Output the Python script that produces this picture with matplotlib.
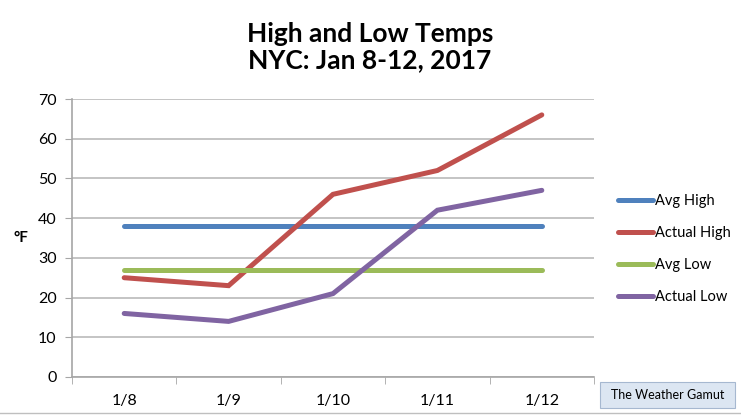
import matplotlib
matplotlib.use("Agg")
import matplotlib.pyplot as plt
from matplotlib.patches import Rectangle

plt.rcParams['font.family'] = ['Lato', 'DejaVu Sans']

days = ["1/8", "1/9", "1/10", "1/11", "1/12"]
avg_high = [38, 38, 38, 38, 38]
actual_high = [25, 23, 46, 52, 66]
avg_low = [27, 27, 27, 27, 27]
actual_low = [16, 14, 21, 42, 47]

series = [
    ("Avg High", avg_high, "#4f81bd"),
    ("Actual High", actual_high, "#c0504d"),
    ("Avg Low", avg_low, "#9bbb59"),
    ("Actual Low", actual_low, "#8064a2"),
]

fig = plt.figure(figsize=(7.41, 4.15), dpi=100)
ax = fig.add_axes([72 / 741, 1 - 377 / 415, 522 / 741, 278 / 415])

x = list(range(len(days)))
for name, vals, col in series:
    ax.plot(x, vals, color=col, lw=3.6, label=name, solid_capstyle='round',
            solid_joinstyle='miter')

ax.set_xlim(-0.5, len(days) - 0.5)
ax.set_ylim(0, 70)
ax.set_yticks(range(0, 71, 10))
ax.set_xticks(x)
ax.set_xticklabels(days)
ax.set_xticks([i - 0.5 for i in range(len(days) + 1)], minor=True)
ax.tick_params(axis='x', which='major', length=0, pad=12, labelsize=11.5)
ax.tick_params(axis='x', which='minor', length=5, color='#a6a6a6', direction='out')
ax.tick_params(axis='y', length=5, color='#a6a6a6', labelsize=11.5, pad=6)
ax.grid(axis='y', color='#bfbfbf', lw=1.3)
ax.set_axisbelow(True)
for s in ['top', 'right']:
    ax.spines[s].set_visible(False)
for s in ['left', 'bottom']:
    ax.spines[s].set_color('#a6a6a6')
    ax.spines[s].set_linewidth(1.2)

ax.set_ylabel("°F", rotation=0, fontsize=11, fontweight='bold', labelpad=12, va='center')

fig.text(370 / 741, 1 - 47 / 415, "High and Low Temps\nNYC: Jan 8-12, 2017",
         ha='center', va='center', fontsize=19, fontweight='bold', linespacing=1.1)

leg = ax.legend(loc='center left', bbox_to_anchor=(1.02, 0.46), frameon=False,
                fontsize=10.5, handlelength=2.4, handletextpad=0.15, labelspacing=1.25)

fig.patches.append(Rectangle((600 / 741, 1 - 408 / 415), 135 / 741, 26 / 415,
                             transform=fig.transFigure, facecolor='#dce6f2',
                             edgecolor='#a6b8d0', lw=0.8))
fig.text(668 / 741, 1 - 395 / 415, "The Weather Gamut", ha='center', va='center',
         fontsize=9)
fig.add_artist(plt.Line2D([0, 1], [1 - 413 / 415] * 2, color='#bfbfbf', lw=1))

fig.savefig("out.png", dpi=100)
